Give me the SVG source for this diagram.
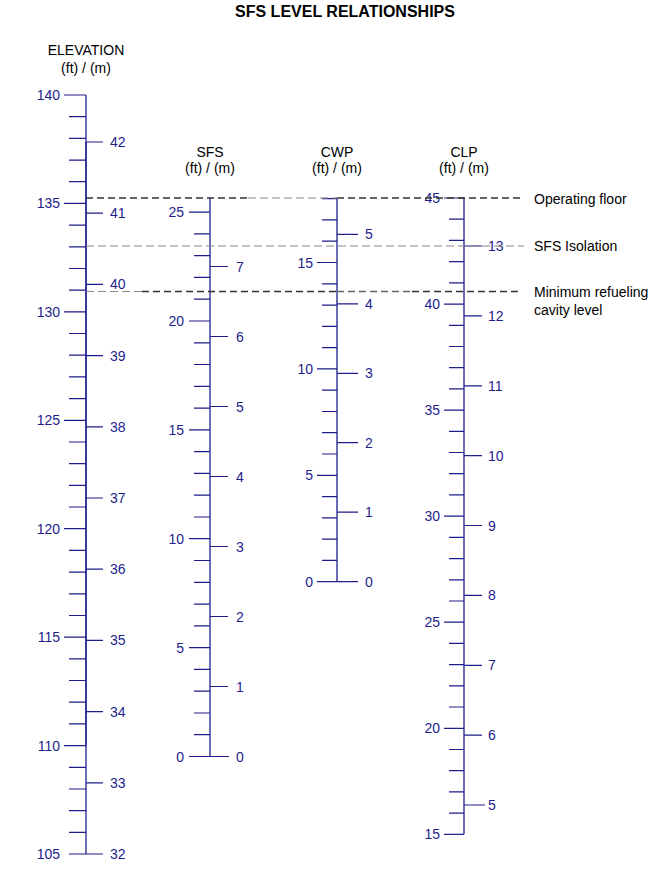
<svg xmlns="http://www.w3.org/2000/svg" width="652" height="872" viewBox="0 0 652 872">
<style>
text{font-family:"Liberation Sans",Arial,sans-serif;font-size:14px}
.title{font-weight:bold;font-size:16px;fill:#000}
.hdr{fill:#000;text-anchor:middle}
.ft{fill:#1e1e8c;text-anchor:end}
.m{fill:#1e1e8c}
.lbl{fill:#000}
.ax{stroke:#1e1e8c;stroke-width:1.3;fill:none}
.tk{stroke:#1e1e8c;stroke-width:1.2;fill:none}
.dk{stroke:#333;stroke-width:1.6;stroke-dasharray:7 4;fill:none}
.gy{stroke:#888;stroke-width:1;stroke-dasharray:8 4;fill:none}
.md{stroke:#666;stroke-width:1.3;stroke-dasharray:7 4;fill:none}
</style>
<rect width="652" height="872" fill="#fff"/>
<text class="title" x="345" y="17" text-anchor="middle">SFS LEVEL RELATIONSHIPS</text>

<g id="elevation">
<text class="hdr" x="86" y="55">ELEVATION</text>
<text class="hdr" x="86" y="73">(ft) / (m)</text>
<path class="ax" d="M86 95V854"/>
<path class="ax" d="M86 142V745.6" stroke-width="2.2"/>
<path class="tk" d="M64 95H86M69 116.7H86M69 138.4H86M69 160.1H86M69 181.7H86M64 203.4H86M69 225.1H86M69 246.8H86M69 268.5H86M69 290.2H86M64 311.9H86M69 333.5H86M69 355.2H86M69 376.9H86M69 398.6H86M64 420.3H86M69 442H86M69 463.7H86M69 485.3H86M69 507H86M64 528.7H86M69 550.4H86M69 572.1H86M69 593.8H86M69 615.5H86M64 637.2H86M69 658.8H86M69 680.5H86M69 702.2H86M69 723.9H86M64 745.6H86M69 767.3H86M69 789H86M69 810.6H86M69 832.3H86M69 854H86"/>
<path class="tk" d="M86 142H103M86 213.2H103M86 284.4H103M86 355.6H103M86 426.8H103M86 498H103M86 569.2H103M86 640.4H103M86 711.6H103M86 782.8H103M86 854H103"/>
<text class="ft" x="60" y="100">140</text>
<text class="ft" x="60" y="208.4">135</text>
<text class="ft" x="60" y="316.9">130</text>
<text class="ft" x="60" y="425.3">125</text>
<text class="ft" x="60" y="533.7">120</text>
<text class="ft" x="60" y="642.2">115</text>
<text class="ft" x="60" y="750.6">110</text>
<text class="ft" x="60" y="859">105</text>
<text class="m" x="110" y="147">42</text>
<text class="m" x="110" y="218.2">41</text>
<text class="m" x="110" y="289.4">40</text>
<text class="m" x="110" y="360.6">39</text>
<text class="m" x="110" y="431.8">38</text>
<text class="m" x="110" y="503">37</text>
<text class="m" x="110" y="574.2">36</text>
<text class="m" x="110" y="645.4">35</text>
<text class="m" x="110" y="716.6">34</text>
<text class="m" x="110" y="787.8">33</text>
<text class="m" x="110" y="859">32</text>
</g>

<g id="sfs">
<text class="hdr" x="210" y="157">SFS</text>
<text class="hdr" x="210" y="173">(ft) / (m)</text>
<path class="ax" d="M210 198V756.5"/>
<path class="tk" d="M189 756.5H210M194 734.7H210M194 713H210M194 691.2H210M194 669.4H210M189 647.6H210M194 625.8H210M194 604.1H210M194 582.3H210M194 560.5H210M189 538.7H210M194 517H210M194 495.2H210M194 473.4H210M194 451.6H210M189 429.9H210M194 408.1H210M194 386.3H210M194 364.5H210M194 342.8H210M189 321H210M194 299.2H210M194 277.4H210M194 255.7H210M194 233.9H210M189 212.1H210"/>
<path class="tk" d="M210 756.5H229M210 686.5H228M210 616.5H228M210 546.5H228M210 476.5H228M210 406.5H228M210 336.5H228M210 266.5H228"/>
<text class="ft" x="184" y="761.5">0</text>
<text class="ft" x="184" y="652.6">5</text>
<text class="ft" x="184" y="543.7">10</text>
<text class="ft" x="184" y="434.9">15</text>
<text class="ft" x="184" y="326">20</text>
<text class="ft" x="184" y="217.1">25</text>
<text class="m" x="236" y="761.5">0</text>
<text class="m" x="236" y="691.5">1</text>
<text class="m" x="236" y="621.5">2</text>
<text class="m" x="236" y="551.5">3</text>
<text class="m" x="236" y="481.5">4</text>
<text class="m" x="236" y="411.5">5</text>
<text class="m" x="236" y="341.5">6</text>
<text class="m" x="236" y="271.5">7</text>
</g>

<g id="cwp">
<text class="hdr" x="337" y="157">CWP</text>
<text class="hdr" x="337" y="173">(ft) / (m)</text>
<path class="ax" d="M337 198V581.7"/>
<path class="tk" d="M317 581.7H337M322 560.4H337M322 539.1H337M322 517.9H337M322 496.6H337M317 475.3H337M322 454H337M322 432.7H337M322 411.5H337M322 390.2H337M317 368.9H337M322 347.6H337M322 326.3H337M322 305.1H337M322 283.8H337M317 262.5H337M322 241.2H337M322 219.9H337M322 198.7H337"/>
<path class="tk" d="M337 581.7H358M337 512.2H358M337 442.7H358M337 373.3H358M337 303.8H358M337 234.3H358"/>
<text class="ft" x="313" y="586.7">0</text>
<text class="ft" x="313" y="480.3">5</text>
<text class="ft" x="313" y="373.9">10</text>
<text class="ft" x="313" y="267.5">15</text>
<text class="m" x="365" y="586.7">0</text>
<text class="m" x="365" y="517.2">1</text>
<text class="m" x="365" y="447.7">2</text>
<text class="m" x="365" y="378.3">3</text>
<text class="m" x="365" y="308.8">4</text>
<text class="m" x="365" y="239.3">5</text>
</g>

<g id="clp">
<text class="hdr" x="464" y="157">CLP</text>
<text class="hdr" x="464" y="173">(ft) / (m)</text>
<path class="ax" d="M464 198V834.3"/>
<path class="tk" d="M444 834.3H464M449 813.1H464M449 791.9H464M449 770.7H464M449 749.5H464M444 728.3H464M449 707H464M449 685.8H464M449 664.6H464M449 643.4H464M444 622.2H464M449 601H464M449 579.8H464M449 558.6H464M449 537.4H464M444 516.2H464M449 494.9H464M449 473.7H464M449 452.5H464M449 431.3H464M444 410.1H464M449 388.9H464M449 367.7H464M449 346.5H464M449 325.3H464M444 304.1H464M449 282.8H464M449 261.6H464M449 240.4H464M449 219.2H464M444 198H464"/>
<path class="tk" d="M464 805H485M464 735.1H482M464 665.3H482M464 595.4H482M464 525.5H482M464 455.6H482M464 385.8H482M464 315.9H482M464 246H482"/>
<text class="ft" x="440" y="839.3">15</text>
<text class="ft" x="440" y="733.3">20</text>
<text class="ft" x="440" y="627.2">25</text>
<text class="ft" x="440" y="521.2">30</text>
<text class="ft" x="440" y="415.1">35</text>
<text class="ft" x="440" y="309.1">40</text>
<text class="ft" x="440" y="203">45</text>
<text class="m" x="488" y="810">5</text>
<text class="m" x="488" y="740.1">6</text>
<text class="m" x="488" y="670.3">7</text>
<text class="m" x="488" y="600.4">8</text>
<text class="m" x="488" y="530.5">9</text>
<text class="m" x="488" y="460.6">10</text>
<text class="m" x="488" y="390.8">11</text>
<text class="m" x="488" y="320.9">12</text>
<text class="m" x="488" y="251">13</text>
</g>

<g id="levels">
<path class="dk" d="M86 198H248"/>
<path class="gy" d="M248 198H337"/>
<path class="dk" d="M337 198H522"/>
<path class="gy" d="M86 246H524"/>
<path class="gy" d="M86 291.5H142"/>
<path class="dk" d="M142 291.5H337"/>
<path class="md" d="M337 291.5H412"/>
<path class="dk" d="M412 291.5H522"/>
</g>

<g id="level-labels">
<text class="lbl" x="534" y="204">Operating floor</text>
<text class="lbl" x="534" y="251">SFS Isolation</text>
<text class="lbl" x="534" y="297">Minimum refueling</text>
<text class="lbl" x="534" y="315">cavity level</text>
</g>
</svg>
